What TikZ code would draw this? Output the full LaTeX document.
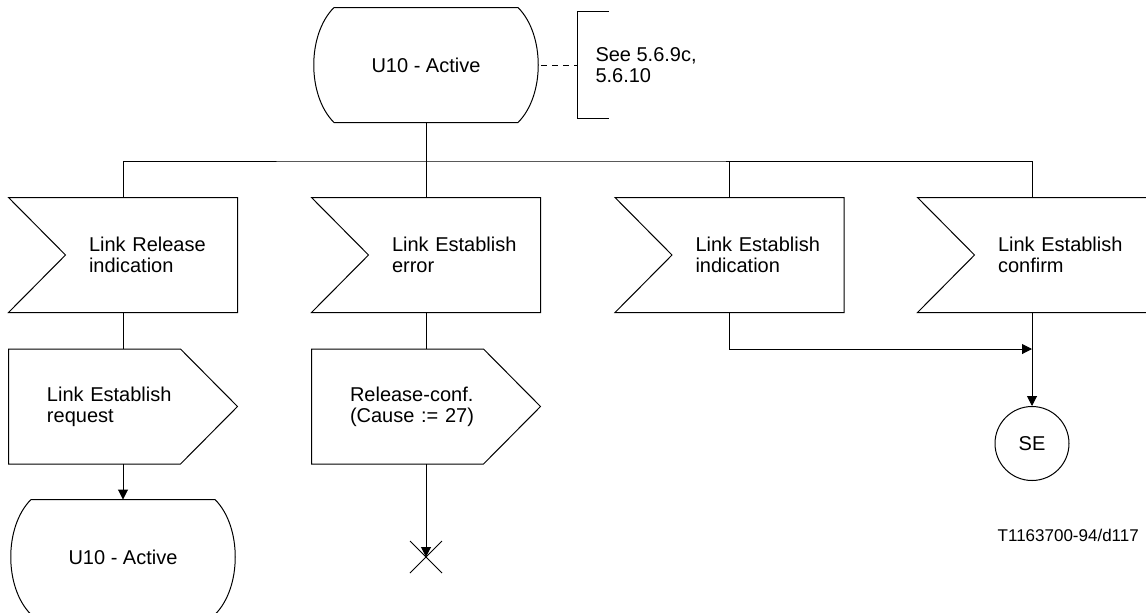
\documentclass[tikz,border=0pt]{standalone}
\usepackage{fontspec}
\setmainfont{Liberation Sans}
\usepackage{tikz}
\usetikzlibrary{arrows.meta,shapes.misc}
\newcommand{\stateline}[1]{\draw (#1.north west) -- (#1.north east) .. controls +(27,27) and +(27,-27) .. (#1.south east) -- (#1.south west) .. controls +(-27,-27) and +(-27,27) .. (#1.north west);}
\newcommand{\inline}[1]{\draw (#1.north west) -- (#1.north east) -- (#1.south east) -- (#1.south west) -- ([xshift=28.5pt]#1.west) -- cycle;}
\newcommand{\outline}[1]{\draw (#1.north west) -- ([xshift=-28.5pt]#1.north east) -- (#1.east) -- ([xshift=-28.5pt]#1.south east) -- (#1.south west) -- cycle;}
\begin{document}
\begin{tikzpicture}[x=0.5pt,y=-0.5pt,line width=0.5pt,>={Triangle[length=5pt,width=5pt]},
every node/.style={font=\fontsize{10}{10.5}\selectfont},
state/.style={minimum width=91.5pt,minimum height=57pt,inner sep=0pt},
insig/.style={text width=114pt,minimum height=57pt,inner sep=0pt,align=left,execute at begin node={\leftskip=40pt}},
outsig/.style={text width=114pt,minimum height=57pt,inner sep=0pt,align=left,execute at begin node={\leftskip=19pt}},
conn/.style={circle,draw,minimum size=37pt,inner sep=0pt},
note/.style={anchor=west,minimum height=53pt,inner xsep=9pt,inner ysep=0pt,align=left}]
\useasboundingbox (0,0) rectangle (1146,612);
% state and its comment
\node[state] (top) at (426,65) {U10 - Active};
\stateline{top}
\node[note] (see) at (577,65) {See 5.6.9c,\\5.6.10};
\draw ([xshift=16pt]see.north west) -- (see.north west) -- (see.south west) -- ([xshift=16pt]see.south west);
\draw[dash pattern=on 3pt off 2.5pt] ([xshift=11.5pt]top.east) -- (see.west);
% inputs
\node[insig] (in1) at (123,255) {Link Release\\indication};
\node[insig] (in2) at (426,255) {Link Establish\\error};
\node[insig] (in3) at (729.5,255) {Link Establish\\indication};
\node[insig] (in4) at (1032,255) {Link Establish\\confirm};
\inline{in1}\inline{in2}\inline{in3}\inline{in4}
\coordinate (bus) at (426,161);
\draw (top) -- (in2);
\draw (in1.north) |- (bus) -| (in4.north);
\draw (in3.north) -- (in3.north |- bus);
% outputs
\node[outsig] (out1) at (123,406.5) {Link Establish\\request};
\node[outsig] (out2) at (426,406.5) {Release-conf.\\(Cause := 27)};
\outline{out1}\outline{out2}
\draw (in1) -- (out1);
\draw (in2) -- (out2);
\node[state] (st2) at (123,557) {U10 - Active};
\stateline{st2}
\draw[->] (out1) -- (st2);
\node[cross out,draw,minimum size=15.5pt,inner sep=0pt] (stop) at (426,557) {};
\draw[->] (out2) -- (stop.center);
% join to SE
\node[conn] (se) at (1032,443.5) {SE};
\coordinate (join) at (1032,349);
\draw[->] (in3.south) |- (join);
\draw[->] (in4) -- (se);
\node[anchor=east,font=\fontsize{8.5}{10}\selectfont] (tag) at (1146,535) {T1163700-94/d117};
\end{tikzpicture}
\end{document}
